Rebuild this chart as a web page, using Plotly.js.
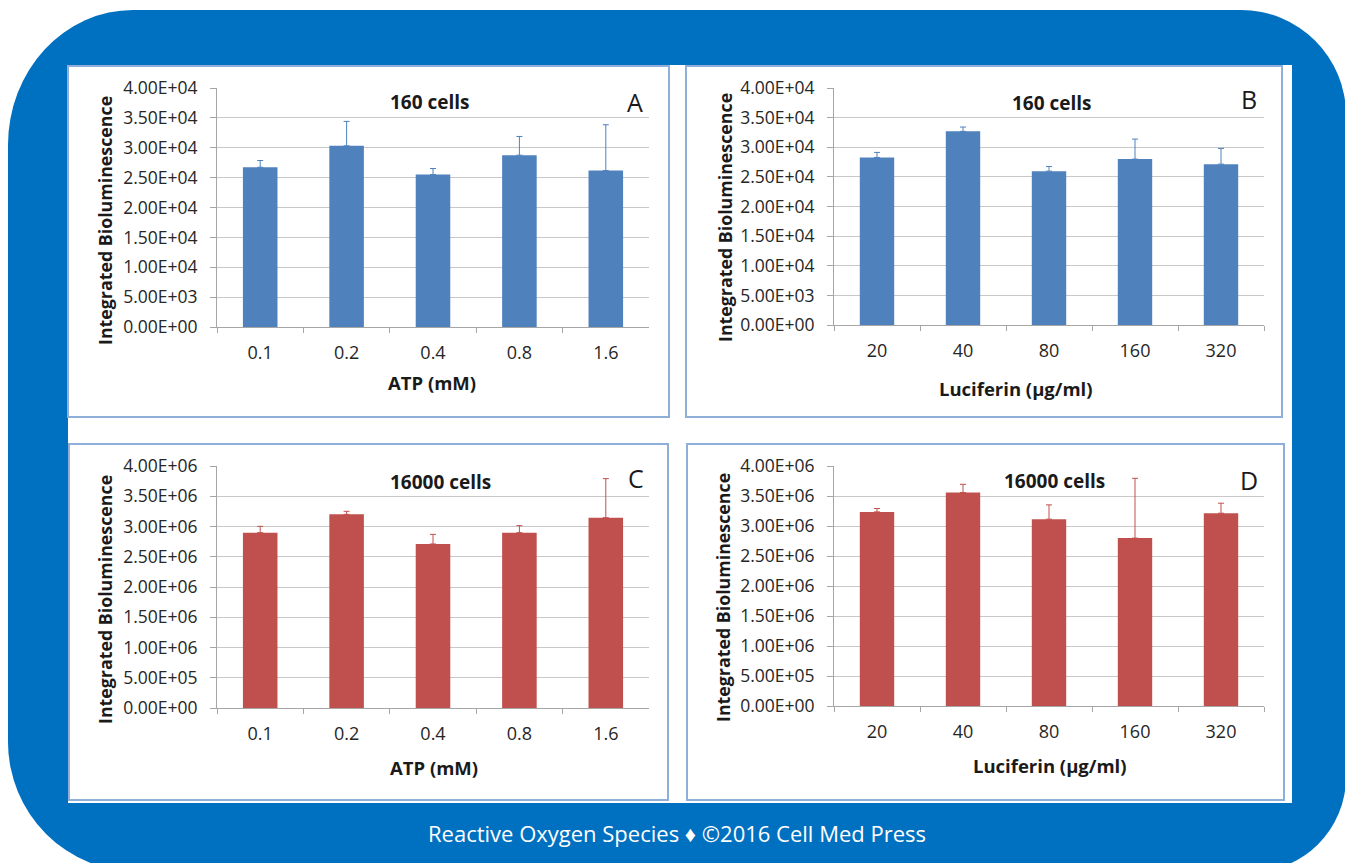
<!DOCTYPE html>
<html><head><meta charset="utf-8">
<script src="https://cdn.plot.ly/plotly-3.0.1.min.js"></script>
<style>
html,body{margin:0;padding:0;background:#fff;}
#wrap{position:relative;width:1345px;height:863px;overflow:hidden;background:#fff;}
#frame{position:absolute;left:8px;top:10px;width:1338px;height:862px;background:#0070c0;border-radius:125px 105px 95px 130px / 135px 105px 95px 130px;}
#inner{position:absolute;left:68px;top:65px;width:1224px;height:738px;background:#fff;}
#chart{position:absolute;left:0;top:0;width:1345px;height:863px;}
</style></head>
<body><div id="wrap"><div id="frame"></div><div id="inner"></div><div id="chart"></div></div>
<script>
// ---- data ----
const atpLevels = ['0.1', '0.2', '0.4', '0.8', '1.6'];
const luciferinLevels = ['20', '40', '80', '160', '320'];

const atp160 = [26740, 30320, 25510, 28760, 26180];
const atp160Err = [1120, 4090, 1010, 3130, 7670];

const luc160 = [28280, 32680, 25970, 28000, 27150];
const luc160Err = [850, 730, 790, 3380, 2650];

const atp16000 = [2898000, 3201000, 2711000, 2898000, 3146000];
const atp16000Err = [105000, 50000, 159000, 116000, 645000];

const luc16000 = [3235000, 3557000, 3114000, 2798000, 3213000];
const luc16000Err = [56000, 138000, 238000, 997000, 167000];

const yTicks160 = [0, 5000, 10000, 15000, 20000, 25000, 30000, 35000, 40000];
const yTickText160 = ['0.00E+00', '5.00E+03', '1.00E+04', '1.50E+04', '2.00E+04', '2.50E+04', '3.00E+04', '3.50E+04', '4.00E+04'];
const yTicks16000 = [0, 500000, 1000000, 1500000, 2000000, 2500000, 3000000, 3500000, 4000000];
const yTickText16000 = ['0.00E+00', '5.00E+05', '1.00E+06', '1.50E+06', '2.00E+06', '2.50E+06', '3.00E+06', '3.50E+06', '4.00E+06'];

const cellLabels = ['160 cells', '160 cells', '16000 cells', '16000 cells'];
const panelLetters = ['A', 'B', 'C', 'D'];
const xTitles = ['ATP (mM)', 'Luciferin (μg/ml)', 'ATP (mM)', 'Luciferin (μg/ml)'];
const yTitle = 'Integrated Bioluminescence';
const footer = 'Reactive Oxygen Species ♦ ©2016 Cell Med Press';

// ---- styles / geometry ----
const W = 1345, H = 863;
const fx = x => x / W;
const fy = y => 1 - y / H;
const BLUE = '#4f81bd', RED = '#c0504d';
const FONT = 'Open Sans, sans-serif';

const panels = [
  {cats: atpLevels, vals: atp160, err: atp160Err, color: BLUE, ticks: yTicks160, ticktext: yTickText160, max: 40000,
   plot: [217, 649, 88, 327], box: [68, 669, 66, 417], cellPos: [430, 102], letterPos: [635, 102], xtPos: [432, 382], ytPos: [105, 221]},
  {cats: luciferinLevels, vals: luc160, err: luc160Err, color: BLUE, ticks: yTicks160, ticktext: yTickText160, max: 40000,
   plot: [834, 1264, 88, 325], box: [686, 1282, 66, 417], cellPos: [1052, 103], letterPos: [1249, 99], xtPos: [1016, 388], ytPos: [725, 218]},
  {cats: atpLevels, vals: atp16000, err: atp16000Err, color: RED, ticks: yTicks16000, ticktext: yTickText16000, max: 4000000,
   plot: [217, 649, 466, 708], box: [69, 668, 444, 800], cellPos: [440, 482], letterPos: [636, 478], xtPos: [434, 767], ytPos: [105, 600]},
  {cats: luciferinLevels, vals: luc16000, err: luc16000Err, color: RED, ticks: yTicks16000, ticktext: yTickText16000, max: 4000000,
   plot: [834, 1264, 466, 706], box: [687, 1284, 444, 800], cellPos: [1054, 481], letterPos: [1249, 480], xtPos: [1050, 765], ytPos: [723, 598]}
];

const traces = [];
const layout = {
  width: W, height: H, autosize: false,
  margin: {l: 0, r: 0, t: 0, b: 0},
  paper_bgcolor: 'rgba(0,0,0,0)', plot_bgcolor: 'rgba(0,0,0,0)',
  showlegend: false, bargap: 0.6,
  font: {family: FONT, color: '#262626', size: 15},
  shapes: [], annotations: []
};

panels.forEach((p, i) => {
  const n = i === 0 ? '' : String(i + 1);
  traces.push({
    type: 'bar', x: p.cats, y: p.vals, xaxis: 'x' + n, yaxis: 'y' + n,
    marker: {color: p.color}, hoverinfo: 'x+y',
    error_y: {type: 'data', symmetric: false, array: p.err, arrayminus: p.err.map(() => 0),
              color: p.color, thickness: 1, width: 3}
  });
  layout['xaxis' + n] = {
    domain: [fx(p.plot[0]), fx(p.plot[1])], anchor: 'y' + n, type: 'category',
    range: [-0.5, 4.5], showline: true, linecolor: '#a6a6a6', linewidth: 1,
    ticks: 'outside', tickson: 'boundaries', ticklen: 5, tickcolor: '#a6a6a6',
    showgrid: false, zeroline: false, ticklabelstandoff: 9,
    tickfont: {family: FONT, size: 18, color: '#262626'}, fixedrange: true
  };
  layout['yaxis' + n] = {
    domain: [fy(p.plot[3]), fy(p.plot[2])], anchor: 'x' + n,
    range: [0, p.max], tickvals: p.ticks, ticktext: p.ticktext,
    showline: true, linecolor: '#a6a6a6', linewidth: 1,
    ticks: 'outside', ticklen: 6, tickcolor: '#a6a6a6',
    showgrid: true, gridcolor: '#c8c8c8', gridwidth: 1, zeroline: false,
    ticklabelstandoff: 9,
    tickfont: {family: FONT, size: 17.5, color: '#262626'}, fixedrange: true
  };
  layout.shapes.push({type: 'rect', xref: 'paper', yref: 'paper', layer: 'below',
    x0: fx(p.box[0]), x1: fx(p.box[1]), y0: fy(p.box[3]), y1: fy(p.box[2]),
    line: {color: '#8eb0d8', width: 2}, fillcolor: 'rgba(0,0,0,0)'});
  layout.annotations.push(
    {xref: 'paper', yref: 'paper', x: fx(p.cellPos[0]), y: fy(p.cellPos[1]), xanchor: 'center', yanchor: 'middle',
     text: '<b>' + cellLabels[i] + '</b>', showarrow: false, font: {family: FONT, size: 19, color: '#1a1a1a'}},
    {xref: 'paper', yref: 'paper', x: fx(p.letterPos[0]), y: fy(p.letterPos[1]), xanchor: 'center', yanchor: 'middle',
     text: panelLetters[i], showarrow: false, font: {family: FONT, size: 25, color: '#1a1a1a'}},
    {xref: 'paper', yref: 'paper', x: fx(p.xtPos[0]), y: fy(p.xtPos[1]), xanchor: 'center', yanchor: 'middle',
     text: '<b>' + xTitles[i] + '</b>', showarrow: false, font: {family: FONT, size: 18.5, color: '#1a1a1a'}},
    {xref: 'paper', yref: 'paper', x: fx(p.ytPos[0]), y: fy(p.ytPos[1]), xanchor: 'center', yanchor: 'middle',
     text: '<b>' + yTitle + '</b>', textangle: -90, showarrow: false, font: {family: FONT, size: 17.8, color: '#1a1a1a'}}
  );
});

layout.annotations.push({xref: 'paper', yref: 'paper', x: fx(677), y: fy(833), xanchor: 'center', yanchor: 'middle',
  text: footer, showarrow: false, font: {family: FONT, size: 22, color: '#ffffff'}});

Plotly.newPlot('chart', traces, layout, {staticPlot: true, displayModeBar: false});
</script>
</body></html>
